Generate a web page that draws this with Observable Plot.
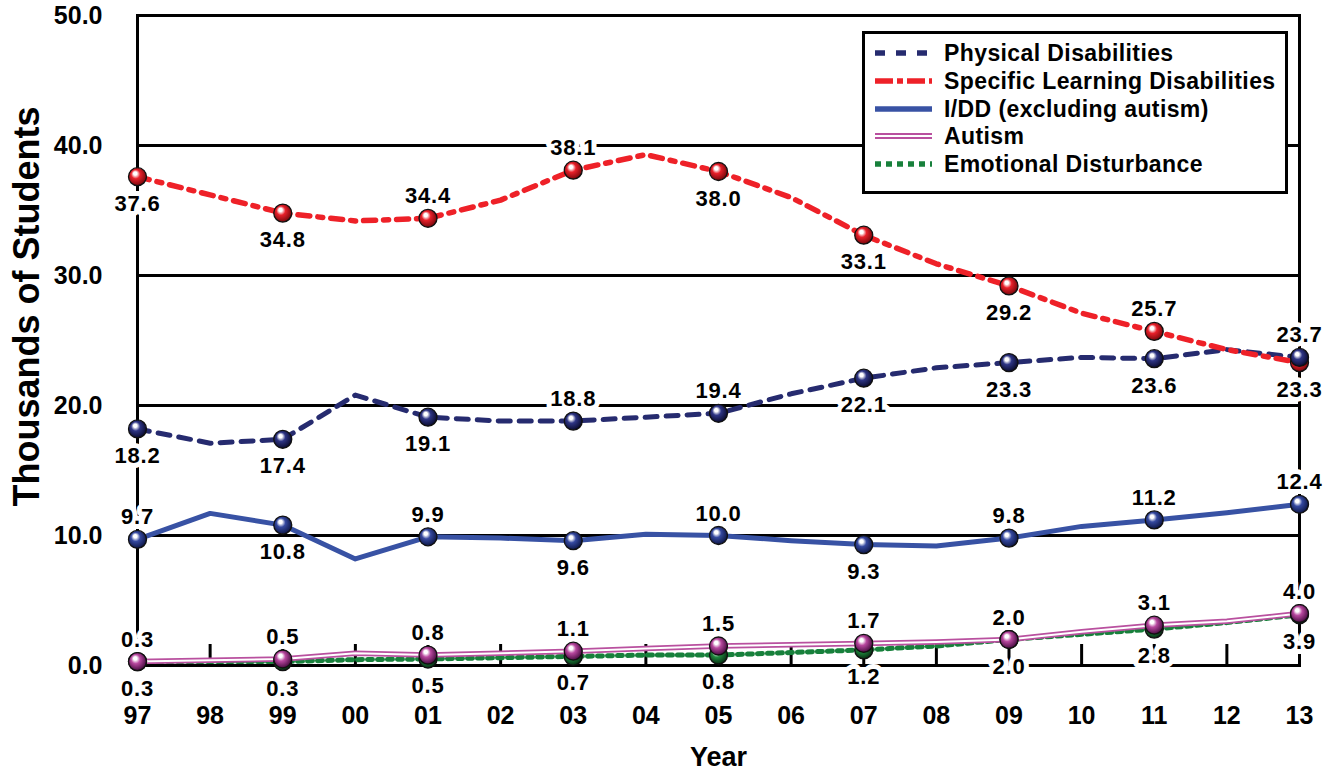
<!DOCTYPE html>
<html>
<head>
<meta charset="utf-8">
<script src="https://cdn.jsdelivr.net/npm/d3@7"></script>
<script src="https://cdn.jsdelivr.net/npm/@observablehq/plot@0.6"></script>
<style>
  body { margin: 0; background: #fff; font-family: "Liberation Sans", Arial, sans-serif; }
  #wrap { position: relative; width: 1336px; height: 775px; }
  #legend { position: absolute; left: 862px; top: 31px; width: 426px; height: 163px; border: 3px solid #000; background: #fff; box-sizing: border-box; }
  .lrow { position: absolute; left: 10px; height: 28px; display: flex; align-items: center; }
  .lrow svg { display: block; }
  .lrow span { margin-left: 12px; font-weight: bold; font-size: 23px; letter-spacing: 0.4px; color: #000; }
  .vlabel { letter-spacing: 0.8px; }
</style>
</head>
<body>
<div id="wrap"></div>
<script>
// ---- data ----
const years = [1997,1998,1999,2000,2001,2002,2003,2004,2005,2006,2007,2008,2009,2010,2011,2012,2013];
const yearLabels = ["97","98","99","00","01","02","03","04","05","06","07","08","09","10","11","12","13"];
const yTicks = [0,10,20,30,40,50];
const gridValues = [10,20,30,40];

const physical  = [18.2,17.1,17.4,20.8,19.1,18.8,18.8,19.1,19.4,20.9,22.1,22.9,23.3,23.7,23.6,24.3,23.7];
const learning  = [37.6,36.2,34.8,34.2,34.4,35.8,38.1,39.3,38.0,36.0,33.1,30.9,29.2,27.1,25.7,24.3,23.3];
const idd       = [9.7,11.7,10.8,8.2,9.9,9.8,9.6,10.1,10.0,9.6,9.3,9.2,9.8,10.7,11.2,11.75,12.4];
const autism    = [0.3,0.4,0.5,0.95,0.8,0.95,1.1,1.3,1.5,1.6,1.7,1.8,2.0,2.6,3.1,3.4,4.0];
const emotional = [0.3,0.3,0.3,0.45,0.5,0.6,0.7,0.8,0.8,1.0,1.2,1.5,2.0,2.4,2.8,3.3,3.9];

const seriesNames = ["Physical Disabilities","Specific Learning Disabilities","I/DD (excluding autism)","Autism","Emotional Disturbance"];

// label placement for the marked (odd) years 97,99,...,13
const sideLearning  = ["below","below","above","above","below","below","below","above","below"];
const sidePhysical  = ["below","below","below","above","above","below","below","below","above"];
const sideIdd       = ["above","below","above","below","above","below","above","above","above"];
const sideAutism    = ["above","above","above","above","above","above","above","above","above"];
const sideEmotional = ["below","below","below","below","below","below","below","below","below"];

// ---- helpers ----
const rows = vals => years.map((y, i) => ({year: y, value: vals[i]}));
const marked = (vals, sides) => rows(vals).filter(d => d.year % 2 === 1).map((d, k) => ({...d, side: sides[k]}));

const colors = {
  learning: "#ee2128", physical: "#262b6f", idd: "#3852a4", autism: "#b9509f", emotional: "#17803b"
};

const series = [
  {key: "emotional", vals: emotional, sides: sideEmotional, grad: "url(#g-green)"},
  {key: "autism",    vals: autism,    sides: sideAutism,    grad: "url(#g-pink)"},
  {key: "learning",  vals: learning,  sides: sideLearning,  grad: "url(#g-red)"},
  {key: "physical",  vals: physical,  sides: sidePhysical,  grad: "url(#g-navy)"},
  {key: "idd",       vals: idd,       sides: sideIdd,       grad: "url(#g-blue)"}
];

const lineMarks = [
  Plot.line(rows(emotional), {x: "year", y: "value", stroke: colors.emotional, strokeWidth: 5, strokeDasharray: "5,5"}),
  Plot.line(rows(autism), {x: "year", y: "value", stroke: colors.autism, strokeWidth: 5.5}),
  Plot.line(rows(autism), {x: "year", y: "value", stroke: "#fff", strokeWidth: 2}),
  Plot.line(rows(idd), {x: "year", y: "value", stroke: colors.idd, strokeWidth: 5}),
  Plot.line(rows(physical), {x: "year", y: "value", stroke: colors.physical, strokeWidth: 5, strokeDasharray: "12,9"}),
  Plot.line(rows(learning), {x: "year", y: "value", stroke: colors.learning, strokeWidth: 5.5, strokeDasharray: "12,8,5,8"})
];

const dotMarks = series.map(s => Plot.dot(marked(s.vals, s.sides), {
  x: "year", y: "value", r: 9, fill: s.grad, stroke: "#111", strokeWidth: 1.3
}));

const labelMarks = series.flatMap(s => {
  const data = marked(s.vals, s.sides);
  const common = {x: "year", y: "value", text: d => d.value.toFixed(1), fontSize: 22, fill: "#000",
    stroke: "#fff", strokeWidth: 10, strokeLinejoin: "round", paintOrder: "stroke", className: "vlabel"};
  return [
    Plot.text(data.filter(d => d.side === "above"), {...common, dy: -22}),
    Plot.text(data.filter(d => d.side === "below"), {...common, dy: 27})
  ];
});

const chart = Plot.plot({
  width: 1336,
  height: 775,
  marginLeft: 137,
  marginRight: 37,
  marginTop: 15,
  marginBottom: 110,
  x: {domain: [1997, 2013]},
  y: {domain: [0, 50]},
  style: {fontFamily: "'Liberation Sans', Arial, sans-serif", fontWeight: "bold", color: "#000", background: "#fff", overflow: "visible"},
  marks: [
    Plot.ruleY(gridValues, {stroke: "#000", strokeWidth: 3}),
    Plot.frame({stroke: "#000", strokeWidth: 3}),
    // inward tick marks on the year axis
    Plot.axisX(years, {tickSize: 21, dy: -21, strokeWidth: 3, stroke: "#000", tickFormat: () => "", label: null}),
    Plot.axisY(yTicks, {tickSize: 0, tickPadding: 35, tickFormat: d => d.toFixed(1), fontSize: 25, label: null}),
    Plot.axisX(years, {tickSize: 0, tickPadding: 41, tickFormat: d => yearLabels[years.indexOf(d)], fontSize: 25, label: null}),
    ...lineMarks,
    ...dotMarks,
    ...labelMarks,
    Plot.text(["Thousands of Students"], {frameAnchor: "left", textAnchor: "middle", lineAnchor: "middle", rotate: -90, dx: -110, dy: -34, fontSize: 36}),
    Plot.text(["Year"], {frameAnchor: "bottom", textAnchor: "middle", lineAnchor: "middle", dy: 92, fontSize: 27})
  ]
});

// sphere gradients
const defs = d3.select(chart).insert("defs", ":first-child");
function sphere(id, base, dark) {
  const g = defs.append("radialGradient").attr("id", id)
    .attr("cx", "45%").attr("cy", "45%").attr("r", "60%").attr("fx", "36%").attr("fy", "30%");
  g.append("stop").attr("offset", "0%").attr("stop-color", "#fff");
  g.append("stop").attr("offset", "16%").attr("stop-color", "#fff");
  g.append("stop").attr("offset", "42%").attr("stop-color", base);
  g.append("stop").attr("offset", "85%").attr("stop-color", dark);
  g.append("stop").attr("offset", "100%").attr("stop-color", "#000");
}
sphere("g-red", "#e8202a", "#8a0b10");
sphere("g-navy", "#2e3585", "#10123d");
sphere("g-blue", "#3549a0", "#141f55");
sphere("g-pink", "#b8489f", "#5a1550");
sphere("g-green", "#1f8a3e", "#0b3d1a");

const wrap = document.getElementById("wrap");
wrap.appendChild(chart);

// legend (HTML overlay)
const legend = document.createElement("div");
legend.id = "legend";
const swatches = [
  {stroke: colors.physical, dash: "10,11", w: 5.5},
  {stroke: colors.learning, dash: "18,4,6,4", w: 5.5},
  {stroke: colors.idd, dash: null, w: 5.5},
  {stroke: colors.autism, dash: null, w: 6, double: true},
  {stroke: colors.emotional, dash: "6,5", w: 5.5}
];
const rowCenters = [22, 50, 78, 105, 133];
seriesNames.forEach((name, i) => {
  const row = document.createElement("div");
  row.className = "lrow";
  row.style.top = (rowCenters[i] - 14 - 3) + "px";
  const sw = swatches[i];
  let svg = `<svg width="57" height="28"><line x1="0" x2="57" y1="14" y2="14" stroke="${sw.stroke}" stroke-width="${sw.w}" ${sw.dash ? `stroke-dasharray="${sw.dash}"` : ""}/>`;
  if (sw.double) svg += `<line x1="0" x2="57" y1="14" y2="14" stroke="#fff" stroke-width="2"/>`;
  svg += `</svg>`;
  row.innerHTML = svg + `<span>${name}</span>`;
  legend.appendChild(row);
});
wrap.appendChild(legend);
</script>
</body>
</html>
